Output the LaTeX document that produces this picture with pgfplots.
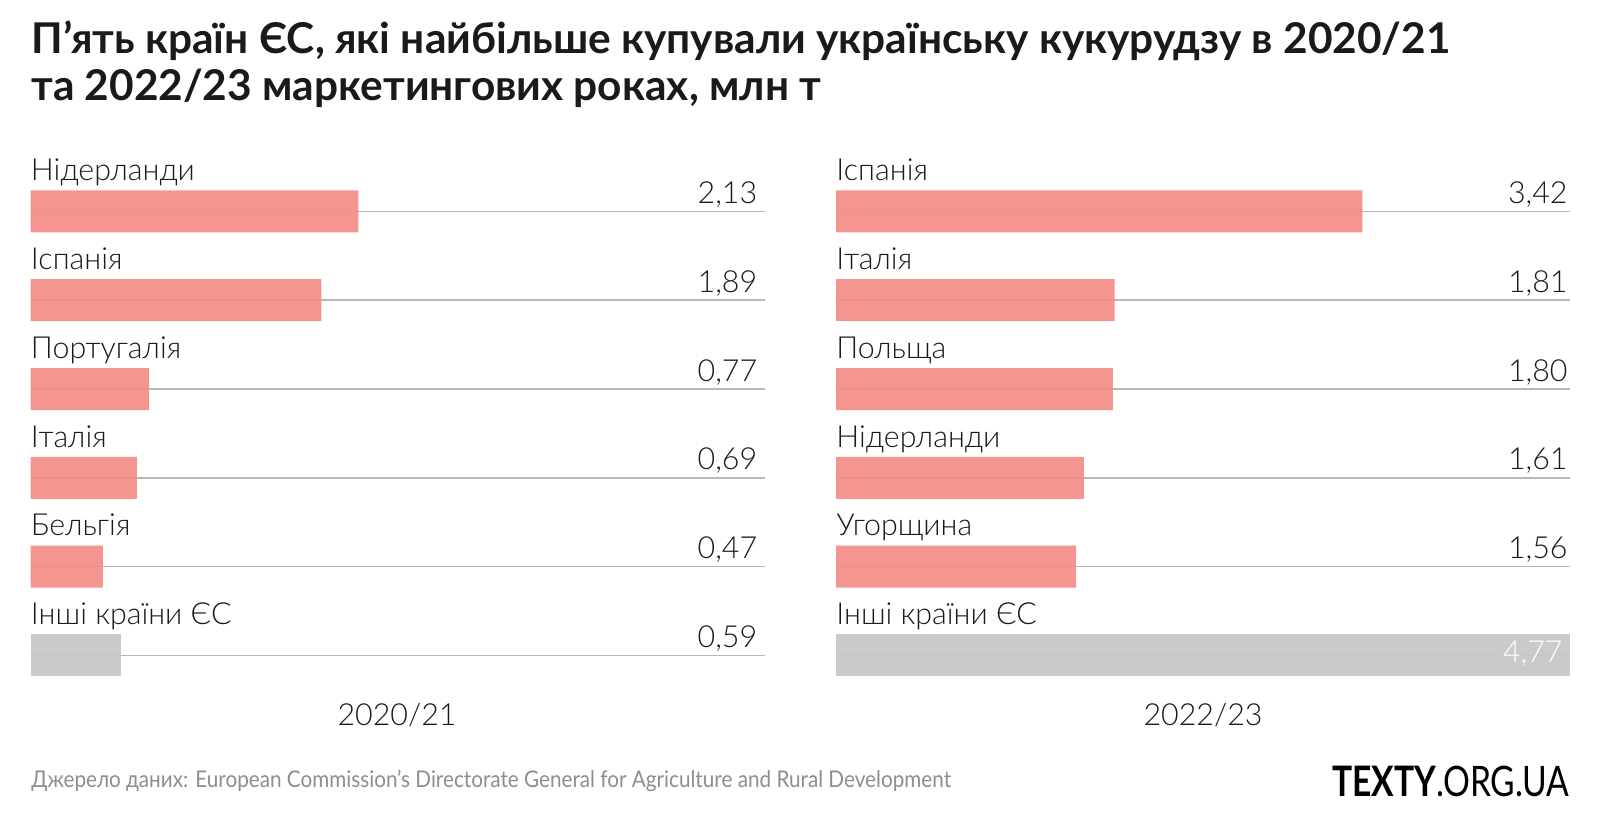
\documentclass[border=0pt]{standalone}
\usepackage{fontspec}
\setmainfont{Lato}
\newfontfamily\lightfont{Lato Light}
\usepackage{graphicx}
\usepackage{pgfplots}
\pgfplotsset{compat=1.18}
\definecolor{barpink}{HTML}{F48C86}
\definecolor{bargray}{HTML}{C6C6C6}
\definecolor{gridgray}{HTML}{B8B8B8}
\definecolor{srcgray}{HTML}{8E8E8E}
\definecolor{ink}{HTML}{1A1A1A}
\newcommand{\lblfont}{\lightfont\fontsize{15.2}{18}\selectfont}
\pgfplotsset{
  panel/.style={
    scale only axis, width=367pt, height=266.4pt,
    xmin=0, xmax=4.77, ymin=0.5, ymax=6.5,
    axis line style={draw=none},
    tick style={draw=none},
    xtick=\empty, ytick={1,2,3,4,5,6}, yticklabels={},
    ymajorgrids, major grid style={draw=gridgray, line width=0.8pt},
    clip=false,
  },
  pbar/.style={xbar, bar shift=0pt, bar width=21pt, draw=none, fill opacity=0.92},
}
\tikzset{
  cat/.style={anchor=base west, inner sep=0pt, yshift=15.4pt, font=\lblfont, text=ink},
  val/.style={anchor=base east, inner sep=0pt, xshift=-3.5pt, yshift=4pt, font=\lblfont, text=ink},
}
\begin{document}
\begin{tikzpicture}[x=1pt,y=1pt]
\fill[white] (0,0) rectangle (800.5,-410.5);
\node[anchor=base west, inner sep=0pt, font=\fontsize{21.2}{24}\selectfont\bfseries, text=ink] at (15.5,-26.5) {П’ять країн ЄС, які найбільше купували українську кукурудзу в 2020/21};
\node[anchor=base west, inner sep=0pt, font=\fontsize{21.2}{24}\selectfont\bfseries, text=ink] at (15.5,-50) {та 2022/23 маркетингових роках, млн т};

\begin{axis}[panel, at={(15.3pt,-83.5pt)}, anchor=north west]
\addplot[pbar, fill=barpink] coordinates {(2.13,6) (1.89,5) (0.77,4) (0.69,3) (0.47,2)};
\addplot[pbar, fill=bargray] coordinates {(0.59,1)};
\node[cat] at (axis cs:0,6) {Нідерланди};
\node[cat] at (axis cs:0,5) {Іспанія};
\node[cat] at (axis cs:0,4) {Португалія};
\node[cat] at (axis cs:0,3) {Італія};
\node[cat] at (axis cs:0,2) {Бельгія};
\node[cat] at (axis cs:0,1) {Інші країни ЄС};
\node[val] at (axis cs:4.77,6) {2,13};
\node[val] at (axis cs:4.77,5) {1,89};
\node[val] at (axis cs:4.77,4) {0,77};
\node[val] at (axis cs:4.77,3) {0,69};
\node[val] at (axis cs:4.77,2) {0,47};
\node[val] at (axis cs:4.77,1) {0,59};
\end{axis}

\begin{axis}[panel, at={(418pt,-83.5pt)}, anchor=north west]
\addplot[pbar, fill=barpink] coordinates {(3.42,6) (1.81,5) (1.80,4) (1.61,3) (1.56,2)};
\addplot[pbar, fill=bargray] coordinates {(4.77,1)};
\node[cat] at (axis cs:0,6) {Іспанія};
\node[cat] at (axis cs:0,5) {Італія};
\node[cat] at (axis cs:0,4) {Польща};
\node[cat] at (axis cs:0,3) {Нідерланди};
\node[cat] at (axis cs:0,2) {Угорщина};
\node[cat] at (axis cs:0,1) {Інші країни ЄС};
\node[val, xshift=2.5pt] at (axis cs:4.77,6) {3,42};
\node[val, xshift=2.5pt] at (axis cs:4.77,5) {1,81};
\node[val, xshift=2.5pt] at (axis cs:4.77,4) {1,80};
\node[val, xshift=2.5pt] at (axis cs:4.77,3) {1,61};
\node[val, xshift=2.5pt] at (axis cs:4.77,2) {1,56};
\node[val, yshift=-7.5pt, text=white] at (axis cs:4.77,1) {4,77};
\end{axis}

\node[anchor=base, inner sep=0pt, font=\lblfont, text=ink] at (198.5,-362.5) {2020/21};
\node[anchor=base, inner sep=0pt, font=\lblfont, text=ink] at (601.5,-362.5) {2022/23};
\node[anchor=base west, inner sep=0pt, font=\fontsize{11.5}{14}\selectfont, text=srcgray] at (15.5,-393.5) {\scalebox{0.9}[1]{Джерело даних: European Commission\symbol{39}s Directorate General for Agriculture and Rural Development}};
\node[anchor=base east, inner sep=0pt, font=\fontsize{21}{24}\selectfont, text=black] at (785,-398) {\scalebox{0.8}[1]{{\bfseries TEXTY}.ORG.UA}};
\end{tikzpicture}
\end{document}
